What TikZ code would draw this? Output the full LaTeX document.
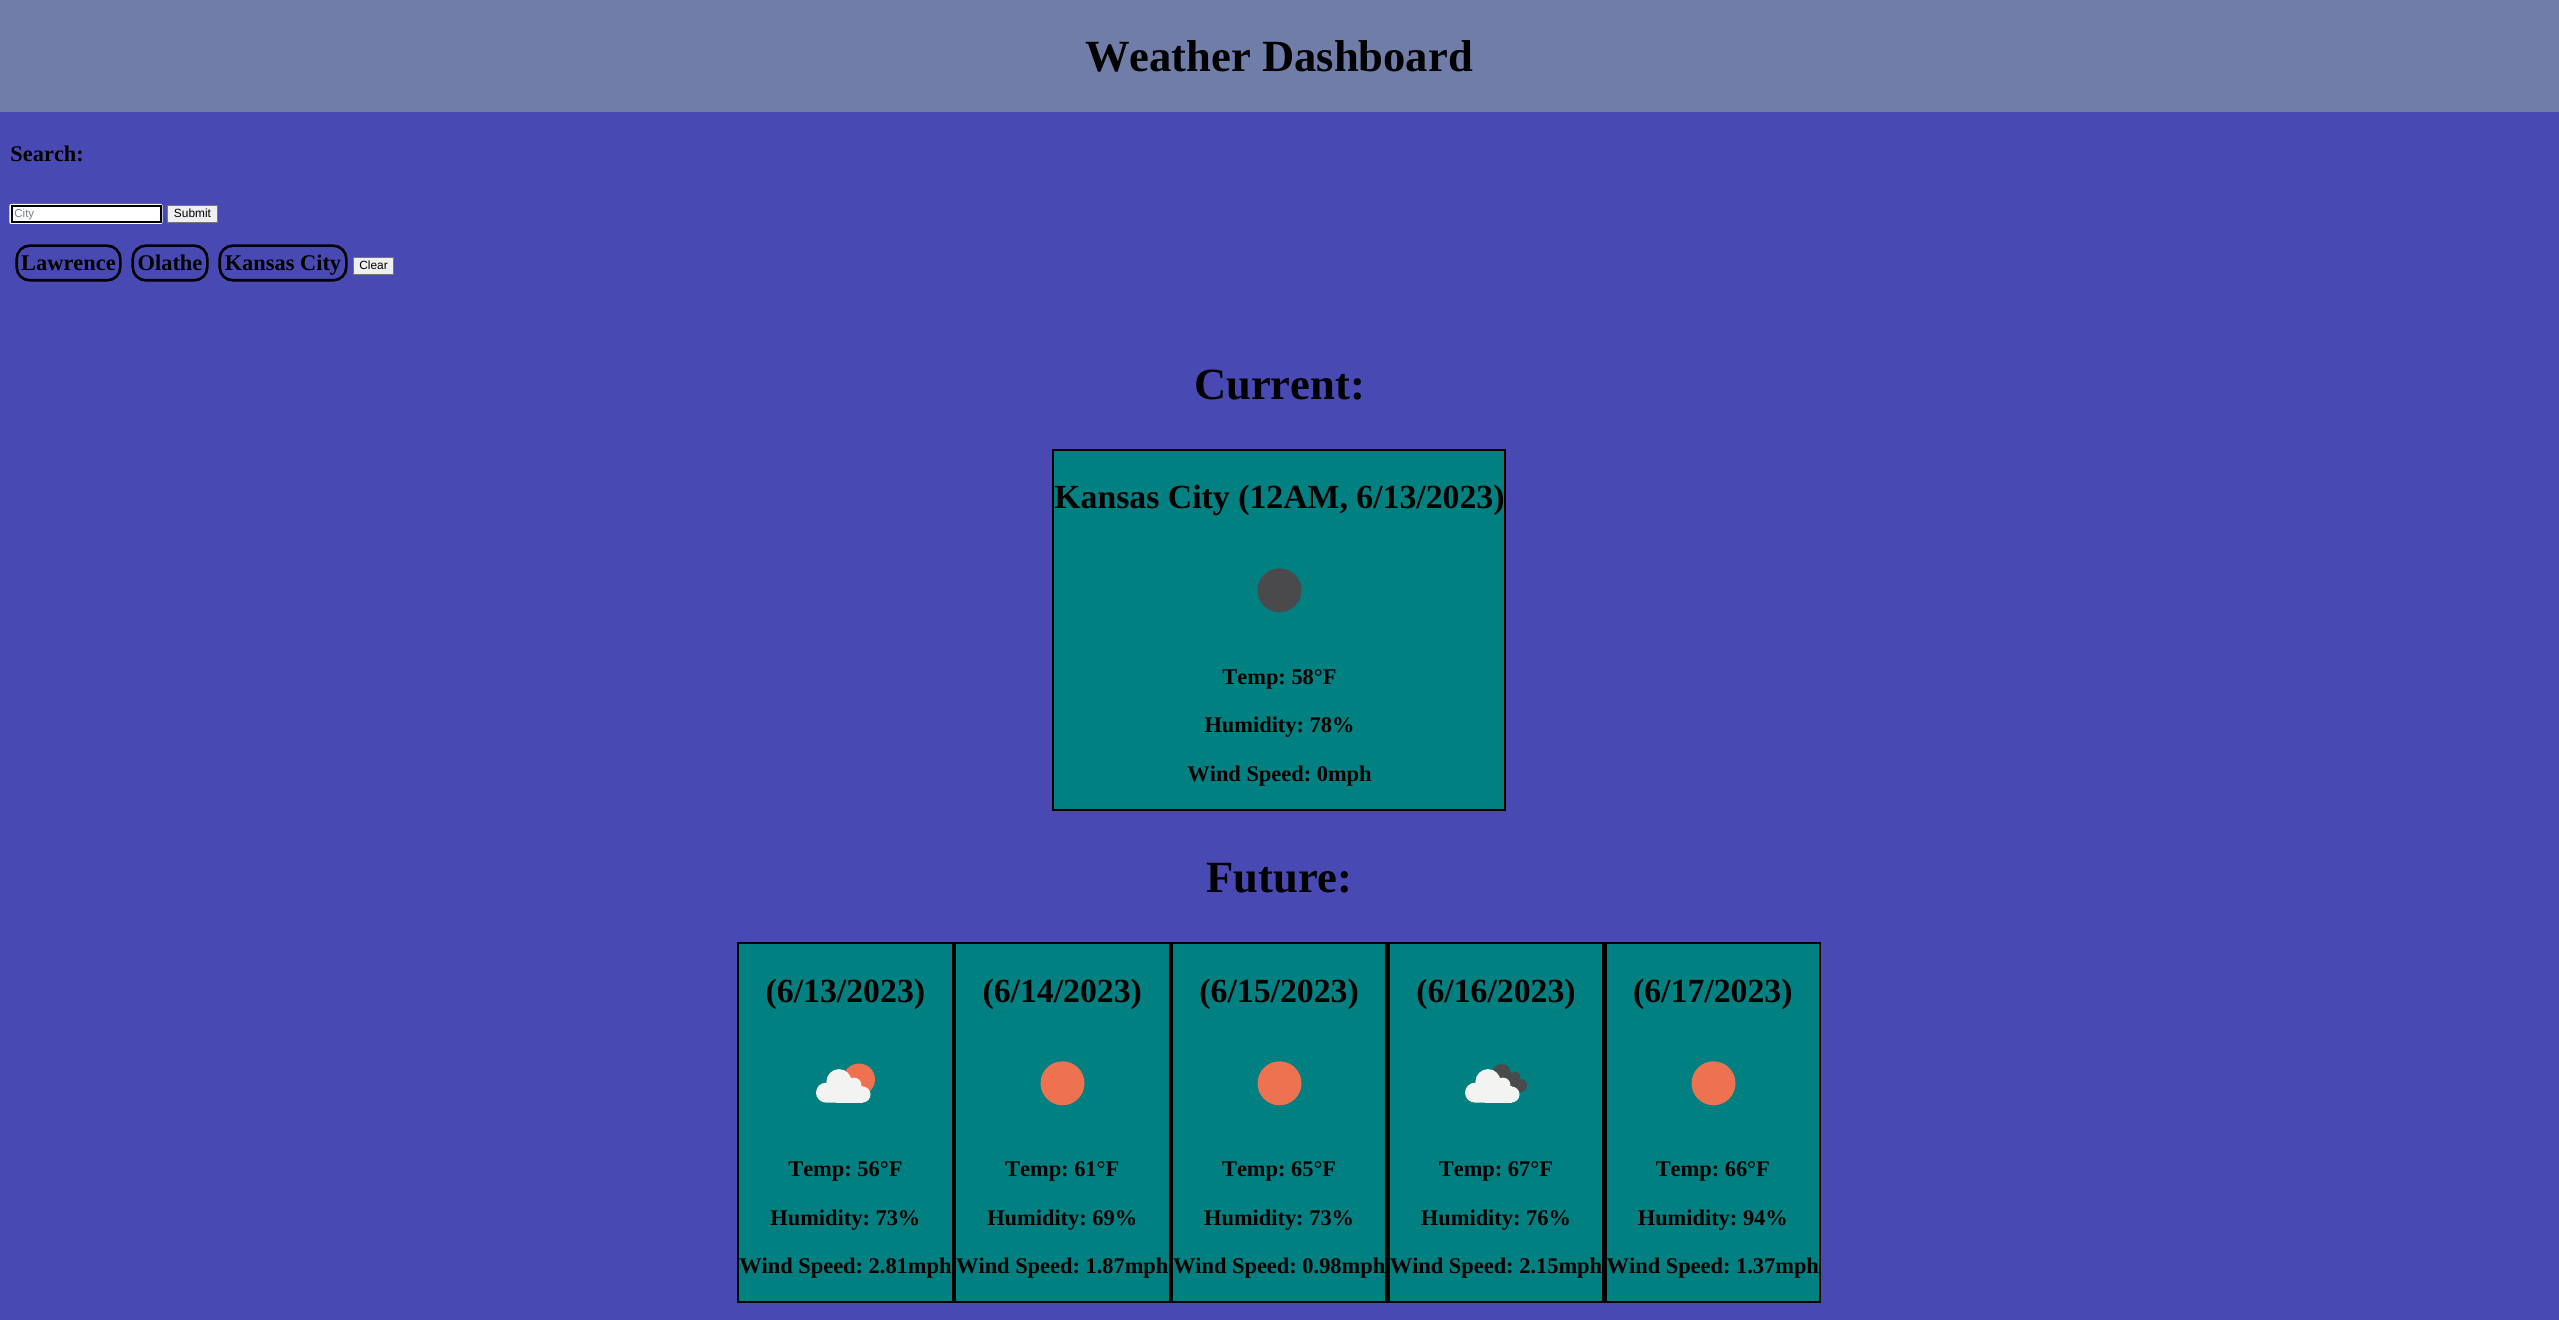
\documentclass[tikz,border=0pt]{standalone}
\usepackage{fontspec}
\setmainfont[Kerning=Off]{Liberation Serif}
\newfontfamily\uifont{Liberation Sans}
\frenchspacing
\definecolor{pagebg}{HTML}{4949B4}
\definecolor{headbg}{HTML}{707DA8}
\definecolor{teal1}{HTML}{008080}
\definecolor{sunc}{HTML}{EE7150}
\definecolor{moonc}{HTML}{4A4A4D}
\definecolor{cloudc}{HTML}{F3F3F1}
\definecolor{btnbg}{HTML}{EFEFEF}
\definecolor{btnln}{HTML}{767676}
\definecolor{placeh}{HTML}{7D8090}
\newcommand{\szA}{\fontsize{22.3}{26}\selectfont}
\newcommand{\szB}{\fontsize{16.88}{20}\selectfont}
\newcommand{\szC}{\fontsize{11.2}{13}\selectfont}
\newcommand{\szUI}{\fontsize{5.95}{7}\selectfont}
\tikzset{
  x=0.5pt,y=-0.5pt,
  lbl/.style={inner sep=0pt,outer sep=0pt,anchor=base,text=black},
  hone/.style={lbl,font=\bfseries\szA},
  htwo/.style={lbl,font=\bfseries\szB},
  para/.style={lbl,font=\bfseries\szC},
  card/.style={fill=teal1,draw=black,line width=1.1pt},
  pill/.style={draw=black,line width=1.3pt,rounded corners=6.5pt},
  btn/.style={fill=btnbg,draw=btnln,line width=0.5pt},
  btntxt/.style={inner sep=0pt,anchor=base,text=black,font=\uifont\szUI},
}
% cloud icon: #1 = x offset of the icon centre
\newcommand{\whitecloud}[1]{%
  \begin{scope}[shift={(#1,0)}]
    \fill[cloudc,rounded corners=5pt] (-29.5,1082.7) rectangle (5,1102.6);
    \fill[cloudc] (-6.5,1081.7) circle[radius=6.3pt];
    \fill[cloudc] (8.5,1085) circle[radius=3.7pt];
    \fill[cloudc] (17,1094.5) circle[radius=4pt];
    \fill[cloudc] (-10,1086) rectangle (17,1102.6);
  \end{scope}}
\begin{document}
\begin{tikzpicture}
\useasboundingbox (0,0) rectangle (2559,1320);
\fill[pagebg] (0,0) rectangle (2559,1320);
\fill[headbg] (0,0) rectangle (2559,112);
\node[hone] (title) at (1279,71.7) {Weather Dashboard};
\node[para,anchor=base west] (search) at (10.5,161.7) {Search:};
% form
\fill[white,rounded corners=1pt] (9.3,204) rectangle (162.7,224);
\draw[black,fill=white,line width=1.1pt] (12.2,206.3) rectangle (161.3,222);
\node[inner sep=0pt,anchor=base west,text=placeh,font=\uifont\fontsize{5.75}{7}\selectfont] (citytxt) at (14,218) {City};
\draw[btn] (167.8,205.8) rectangle (217.3,222.3);
\node[btntxt] (submit) at (192.5,218) {Submit};
\draw[pill] (16.7,245.7) rectangle (120.3,280.3);
\node[para] (p1) at (68.5,270.7) {Lawrence};
\draw[pill] (132.7,245.7) rectangle (207.3,280.3);
\node[para] (p2) at (170,270.7) {Olathe};
\draw[pill] (219.7,245.7) rectangle (346.3,280.3);
\node[para] (p3) at (283,270.7) {Kansas City};
\draw[btn] (353.8,257.8) rectangle (393.3,274.3);
\node[btntxt] (clear) at (373.5,270) {Clear};
% current
\node[hone] (curh) at (1279.5,400) {Current:};
\draw[card] (1053.1,450.1) rectangle (1505,809.9);
\node[htwo] (curt) at (1279.5,509) {Kansas City (12AM, 6/13/2023)};
\fill[moonc] (1279.5,590.3) circle[radius=11pt];
\node[para] (curtemp) at (1279.5,684) {Temp: 58°F};
\node[para] (curhum) at (1279.5,732) {Humidity: 78\%};
\node[para] (curwind) at (1279.5,781) {Wind Speed: 0mph};
% future
\node[hone] (futh) at (1279.5,892.3) {Future:};
\foreach \i/\cx/\d/\t/\h/\w in {
  1/845.4/6\slash 13/56/73/2.81,
  2/1062.25/6\slash 14/61/69/1.87,
  3/1279.1/6\slash 15/65/73/0.98,
  4/1495.95/6\slash 16/67/76/2.15,
  5/1712.8/6\slash 17/66/94/1.37}{
  \draw[card] (\cx-107.4,942.8) rectangle (\cx+107.4,1302.2);
  \node[htwo] (date\i) at (\cx,1002) {(\d/2023)};
  \node[para] (temp\i) at (\cx,1176) {Temp: \t°F};
  \node[para] (hum\i) at (\cx,1225) {Humidity: \h\%};
  \node[para] (wind\i) at (\cx,1273) {Wind Speed: \w mph};
}
% icons
\fill[sunc] (859,1079.5) circle[radius=8pt];
\whitecloud{845.5}
\fill[sunc] (1062.5,1083.3) circle[radius=11pt];
\fill[sunc] (1279.5,1083.3) circle[radius=11pt];
\fill[moonc] (1501.5,1073.5) circle[radius=4.7pt];
\fill[moonc] (1515,1077) circle[radius=2.7pt];
\fill[moonc] (1520.5,1085.5) circle[radius=3.3pt];
\fill[moonc] (1495,1078) rectangle (1518,1090);
\whitecloud{1494.5}
\fill[sunc] (1713.5,1083.3) circle[radius=11pt];
\end{tikzpicture}
\end{document}
